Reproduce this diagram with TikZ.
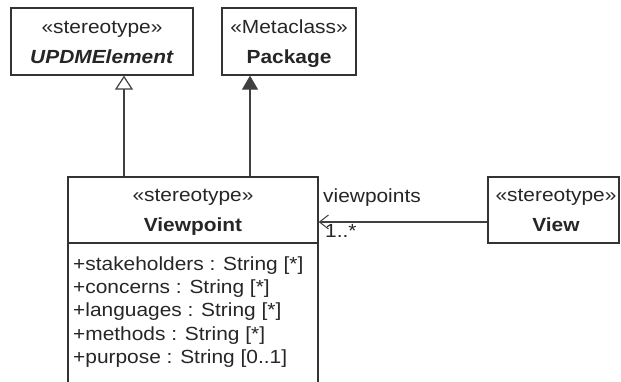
\documentclass[tikz,border=0pt]{standalone}
\usepackage{fontspec}
\setmainfont{Liberation Sans}[FakeStretch=1.1]
\usetikzlibrary{arrows.meta}
\begin{document}
\begin{tikzpicture}[x=1pt,y=-1pt,
  umlbox/.style={draw=black!80, line width=1.3pt, rectangle, inner sep=0pt, fill=white},
  txt/.style={inner sep=0pt, anchor=base, font=\fontsize{19}{22}\selectfont, text=black!85},
  attr/.style={txt, anchor=base west},
  conn/.style={draw=black!75, line width=1.2pt},
  gen/.style={conn, -{Triangle[open, length=14pt, width=18pt, fill=white]}},
  ext/.style={conn, -{Triangle[length=14pt, width=16pt]}},
  assoc/.style={conn, -{Straight Barb[length=9pt, width=14pt, line width=1pt]}}]
\useasboundingbox (0,0) rectangle (621,381);
\fill[white] (0,0) rectangle (621,381);

% boxes
\node[umlbox, minimum width=182pt, minimum height=67pt] (upd) at (102,41.5) {};
\node[umlbox, minimum width=134pt, minimum height=67pt] (pkg) at (289,41.5) {};
\node[umlbox, minimum width=250pt, minimum height=206pt] (vp) at (193,280) {};
\node[umlbox, minimum width=131pt, minimum height=66pt] (view) at (553.5,210) {};
\coordinate (sepL) at (68,243);
\draw[draw=black!80, line width=1.3pt] (vp.west |- sepL) -- (vp.east |- sepL);

% texts
\node[txt] (updS) at (102,33) {«stereotype»};
\node[txt] (updN) at (102,63) {\textbf{\textit{UPDMElement}}};
\node[txt] (pkgS) at (289,33) {«Metaclass»};
\node[txt] (pkgN) at (289,63) {\textbf{Package}};
\node[txt] (vpS) at (193,201) {«stereotype»};
\node[txt] (vpN) at (193,231) {\textbf{Viewpoint}};
\node[txt] (viewS) at (556,201) {«stereotype»};
\node[txt] (viewN) at (556,231) {\textbf{View}};

\node[attr] (a1) at (73,270) {+stakeholders : String [*]};
\node[attr] (a2) at (73,293.3) {+concerns : String [*]};
\node[attr] (a3) at (73,316.6) {+languages : String [*]};
\node[attr] (a4) at (73,340) {+methods : String [*]};
\node[attr] (a5) at (73,363.3) {+purpose : String [0..1]};

% connectors
\coordinate (g1) at (124,0);
\coordinate (g2) at (250,0);
\coordinate (as) at (0,222);
\draw[gen] (vp.north -| g1) -- (upd.south -| g1);
\draw[ext] (vp.north -| g2) -- (pkg.south -| g2);
\draw[assoc] (view.west |- as) -- (vp.east |- as);

\node[attr] (role) at (323,202) {viewpoints};
\node[attr] (mult) at (325,237) {1..*};
\end{tikzpicture}
\end{document}
